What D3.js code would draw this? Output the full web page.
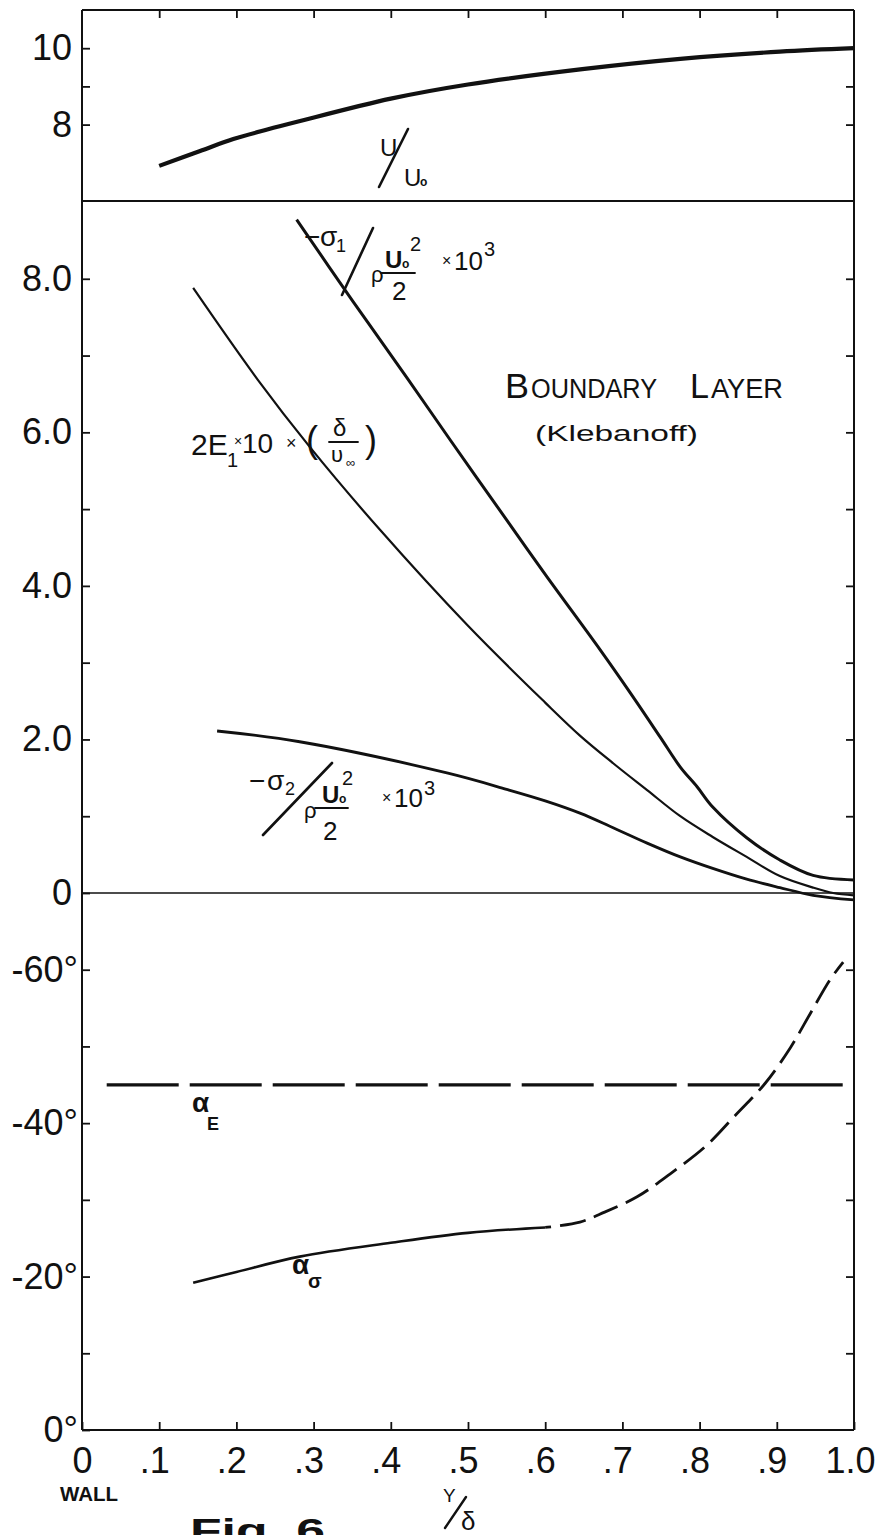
<!DOCTYPE html>
<html>
<head>
<meta charset="utf-8">
<script src="https://cdn.jsdelivr.net/npm/d3@7"></script>
<style>
  html, body { margin: 0; padding: 0; background: #fff; }
  svg { display: block; }
  text { font-family: "Liberation Sans", Arial, sans-serif; fill: #111; }
</style>
</head>
<body>
<svg id="chart" width="883" height="1535"></svg>
<script>
// ---- Distance from the wall, Y/δ ----
const xTickValues = [0, 0.1, 0.2, 0.3, 0.4, 0.5, 0.6, 0.7, 0.8, 0.9, 1.0];
const xTickLabels = ["0", ".1", ".2", ".3", ".4", ".5", ".6", ".7", ".8", ".9", "1.0"];

// ---- Panel tick values and labels ----
const velocityTicks = [8, 9, 10];
const velocityTickLabels = ["8", "", "10"];
const stressTicks = [0, 1, 2, 3, 4, 5, 6, 7, 8];
const stressTickLabels = ["0", "", "2.0", "", "4.0", "", "6.0", "", "8.0"];
const angleTicks = [0, -10, -20, -30, -40, -50, -60];
const angleTickLabels = ["0°", "", "-20°", "", "-40°", "", "-60°"];

// ---- Mean velocity U/U∘ ----
const velocityX = [0.10, 0.153, 0.196, 0.24, 0.28, 0.40, 0.50, 0.648, 0.775, 0.904, 1.00];
const velocityY = [6.92, 7.31, 7.62, 7.87, 8.08, 8.68, 9.05, 9.45, 9.72, 9.91, 10.00];

// ---- Principal stress -σ1 / (ρU∘²/2) × 10³ ----
const sigma1X = [0.278, 0.35, 0.421, 0.477, 0.55, 0.60, 0.671, 0.71, 0.749, 0.775, 0.797, 0.817, 0.861, 0.904, 0.947, 1.00];
const sigma1Y = [8.77, 7.72, 6.71, 5.90, 4.86, 4.15, 3.17, 2.61, 2.03, 1.64, 1.38, 1.12, 0.72, 0.43, 0.23, 0.17];

// ---- Energy 2E1 × 10 × (δ/U∞) ----
const energyX = [0.144, 0.228, 0.295, 0.386, 0.50, 0.60, 0.645, 0.688, 0.732, 0.775, 0.817, 0.861, 0.904, 0.947, 0.973, 1.00];
const energyY = [7.88, 6.68, 5.81, 4.73, 3.48, 2.48, 2.05, 1.69, 1.34, 1.00, 0.73, 0.47, 0.22, 0.07, 0.00, -0.03];

// ---- Principal stress -σ2 / (ρU∘²/2) × 10³ ----
const sigma2X = [0.175, 0.282, 0.474, 0.55, 0.60, 0.645, 0.688, 0.732, 0.775, 0.817, 0.861, 0.904, 0.947, 1.00];
const sigma2Y = [2.11, 1.97, 1.56, 1.35, 1.20, 1.04, 0.85, 0.65, 0.47, 0.32, 0.18, 0.07, -0.03, -0.09];

// ---- Angles (degrees) ----
const alphaSigmaMeasuredX = [0.144, 0.20, 0.282, 0.40, 0.50, 0.60];
const alphaSigmaMeasuredY = [-19.2, -20.6, -22.6, -24.4, -25.7, -26.4];
const alphaSigmaExtendedX = [0.60, 0.645, 0.677, 0.719, 0.762, 0.808, 0.847, 0.885, 0.918, 0.944, 0.969, 0.986];
const alphaSigmaExtendedY = [-26.4, -27.1, -28.4, -30.4, -33.4, -37.0, -41.1, -45.2, -49.9, -54.4, -58.7, -61.0];
const alphaEX = [0.032, 1.00];
const alphaEY = [-45, -45];

// ---------------------------------------------------------------
const svg = d3.select("#chart");
const ink = "#111";

const x = d3.scaleLinear().domain([0, 1]).range([82, 854]);
const yVel = d3.scaleLinear().domain([6, 11]).range([201, 10]);
const yStress = d3.scaleLinear().domain([0, 9]).range([893, 202]);
const yAngle = d3.scaleLinear().domain([0, -70]).range([1430, 893]);

const frameLeft = x(0), frameRight = x(1);
const frameTop = yVel(11), frameBottom = yAngle(0);

// Frame and panel separators
const frame = svg.append("g").attr("stroke", ink).attr("fill", "none");
frame.append("line").attr("x1", frameLeft).attr("x2", frameLeft).attr("y1", frameTop).attr("y2", frameBottom).attr("stroke-width", 2);
frame.append("line").attr("x1", frameRight).attr("x2", frameRight).attr("y1", frameTop).attr("y2", frameBottom).attr("stroke-width", 2);
frame.append("line").attr("x1", frameLeft).attr("x2", frameRight).attr("y1", frameTop).attr("y2", frameTop).attr("stroke-width", 2);
frame.append("line").attr("x1", frameLeft).attr("x2", frameRight).attr("y1", frameBottom).attr("y2", frameBottom).attr("stroke-width", 2);
frame.append("line").attr("x1", frameLeft).attr("x2", frameRight).attr("y1", yVel(6)).attr("y2", yVel(6)).attr("stroke-width", 2);
frame.append("line").attr("x1", frameLeft).attr("x2", frameRight).attr("y1", yStress(0)).attr("y2", yStress(0)).attr("stroke-width", 1.6);

// Axes (ticks point inward)
function styleAxis(g, fontSize) {
  g.select(".domain").remove();
  g.selectAll(".tick line").attr("stroke", ink).attr("stroke-width", 1.8);
  g.selectAll(".tick text").attr("font-size", fontSize).attr("fill", ink)
    .attr("font-family", "'Liberation Sans', Arial, sans-serif");
}
function labelFrom(values, labels) {
  return d => labels[values.indexOf(d)];
}

svg.append("g").attr("transform", `translate(${frameLeft},0)`)
  .call(d3.axisLeft(yVel).tickValues(velocityTicks).tickSize(-8).tickSizeOuter(0).tickPadding(10)
    .tickFormat(labelFrom(velocityTicks, velocityTickLabels)))
  .call(g => styleAxis(g, 36));
svg.append("g").attr("transform", `translate(${frameRight},0)`)
  .call(d3.axisRight(yVel).tickValues([8, 9]).tickSize(-8).tickSizeOuter(0).tickFormat(""))
  .call(g => styleAxis(g, 36));

svg.append("g").attr("transform", `translate(${frameLeft},0)`)
  .call(d3.axisLeft(yStress).tickValues(stressTicks).tickSize(-8).tickSizeOuter(0).tickPadding(10)
    .tickFormat(labelFrom(stressTicks, stressTickLabels)))
  .call(g => styleAxis(g, 36));
svg.append("g").attr("transform", `translate(${frameRight},0)`)
  .call(d3.axisRight(yStress).tickValues(stressTicks.slice(1)).tickSize(-8).tickSizeOuter(0).tickFormat(""))
  .call(g => styleAxis(g, 36));

svg.append("g").attr("transform", `translate(${frameLeft},0)`)
  .call(d3.axisLeft(yAngle).tickValues(angleTicks).tickSize(-8).tickSizeOuter(0).tickPadding(4)
    .tickFormat(labelFrom(angleTicks, angleTickLabels)))
  .call(g => styleAxis(g, 36));
svg.append("g").attr("transform", `translate(${frameRight},0)`)
  .call(d3.axisRight(yAngle).tickValues(angleTicks.slice(1)).tickSize(-8).tickSizeOuter(0).tickFormat(""))
  .call(g => styleAxis(g, 36));

svg.append("g").attr("transform", `translate(0,${frameTop})`)
  .call(d3.axisTop(x).tickValues(xTickValues.slice(1, -1)).tickSize(-8).tickSizeOuter(0).tickFormat(""))
  .call(g => styleAxis(g, 36));

svg.append("g").attr("transform", `translate(0,${frameBottom})`)
  .call(d3.axisBottom(x).tickValues(xTickValues).tickSize(-8).tickSizeOuter(0).tickPadding(17)
    .tickFormat(labelFrom(xTickValues, xTickLabels)))
  .call(g => styleAxis(g, 36))
  .call(g => g.selectAll(".tick text")
    .attr("text-anchor", "end")
    .attr("x", d => d === 1 ? 21 : 10));

// Curves
function drawCurve(xs, ys, yScale, width, dash, offset) {
  const pts = d3.zip(xs, ys);
  const path = svg.append("path")
    .datum(pts)
    .attr("fill", "none")
    .attr("stroke", ink)
    .attr("stroke-width", width)
    .attr("stroke-linecap", "butt")
    .attr("stroke-linejoin", "round")
    .attr("d", d3.line().x(d => x(d[0])).y(d => yScale(d[1])).curve(d3.curveCatmullRom.alpha(0.5)));
  if (dash) path.attr("stroke-dasharray", dash).attr("stroke-dashoffset", offset || 0);
  return path;
}

drawCurve(velocityX, velocityY, yVel, 4.2);
drawCurve(sigma1X, sigma1Y, yStress, 3);
drawCurve(energyX, energyY, yStress, 2.2);
drawCurve(sigma2X, sigma2Y, yStress, 2.8);
drawCurve(alphaEX, alphaEY, yAngle, 3.2, "72,11");
drawCurve(alphaSigmaMeasuredX, alphaSigmaMeasuredY, yAngle, 2.6);
drawCurve(alphaSigmaExtendedX, alphaSigmaExtendedY, yAngle, 2.8, "26,9", 20);

// Annotation helpers
function txt(px, py, s, size, opts = {}) {
  const t = svg.append("text").attr("x", px).attr("y", py).attr("font-size", size).text(s);
  if (opts.weight) t.attr("font-weight", opts.weight);
  if (opts.anchor) t.attr("text-anchor", opts.anchor);
  if (opts.len) t.attr("textLength", opts.len).attr("lengthAdjust", "spacingAndGlyphs");
  if (opts.style) t.attr("font-style", opts.style);
  if (opts.family) t.attr("font-family", opts.family);
  return t;
}
function seg(x1, y1, x2, y2, w) {
  svg.append("line").attr("x1", x1).attr("y1", y1).attr("x2", x2).attr("y2", y2)
    .attr("stroke", ink).attr("stroke-width", w || 2.4).attr("stroke-linecap", "round");
}

// U/U∘
txt(380, 156, "U", 24);
seg(379, 187, 408, 129, 2.6);
txt(404, 186, "U", 24);
txt(420, 186, "o", 12, { weight: "bold" });

// -σ1 / (ρ U∘²/2) ×10³
txt(304, 246, "−", 28);
txt(320, 246, "σ", 28);
txt(336, 252, "1", 18);
seg(342, 295, 373, 228, 2.6);
txt(371, 282, "ρ", 22);
txt(385, 268, "U", 24, { weight: "bold" });
txt(402, 268, "o", 12, { weight: "bold" });
txt(410, 251, "2", 20);
seg(381, 273, 415, 273, 1.8);
txt(392, 300, "2", 26);
txt(442, 266, "×", 16);
txt(454, 270, "10", 26);
txt(484, 256, "3", 20);

// -σ2 / (ρ U∘²/2) ×10³
txt(249, 790, "−", 28);
txt(267, 790, "σ", 28);
txt(285, 795, "2", 18);
seg(263, 835, 332, 763, 2.6);
txt(304, 818, "ρ", 22);
txt(322, 803, "U", 24, { weight: "bold" });
txt(339, 803, "o", 12, { weight: "bold" });
txt(342, 785, "2", 20);
seg(315, 808, 348, 808, 1.8);
txt(323, 840, "2", 26);
txt(382, 803, "×", 16);
txt(394, 807, "10", 26);
txt(424, 795, "3", 20);

// 2E1 × 10 × (δ/U∞)
txt(191, 455, "2E", 30);
txt(227, 467, "1", 20);
txt(234, 446, "×", 14);
txt(242, 453, "10", 28);
txt(286, 449, "×", 18);
txt(306, 452, "(", 36);
txt(333, 436, "δ", 24);
seg(329, 442, 358, 442, 1.8);
txt(331, 462, "υ", 22, { family: "'DejaVu Sans', sans-serif" });
txt(346, 467, "∞", 13, { family: "'DejaVu Sans', sans-serif" });
txt(365, 452, ")", 36);

// Panel title
txt(505, 398, "B", 35, { len: 24 });
txt(531, 398, "OUNDARY", 27, { len: 126 });
txt(690, 398, "L", 35, { len: 19 });
txt(711, 398, "AYER", 27, { len: 72 });
txt(535, 441, "(Klebanoff)", 22, { len: 163 });

// Angle labels
txt(192, 1112, "α", 28, { weight: "bold" });
txt(207, 1130, "E", 18, { weight: "bold" });
txt(292, 1274, "α", 28, { weight: "bold" });
txt(308, 1288, "σ", 20, { weight: "bold" });

// Axis captions
txt(89, 1501, "WALL", 21, { weight: "bold", anchor: "middle", len: 58 });
txt(443, 1502, "Y", 19);
seg(445, 1528, 466, 1497, 2.4);
txt(461, 1530, "δ", 26);
txt(190, 1542, "Fig. 6", 34, { weight: "bold", len: 135 });
</script>
</body>
</html>
